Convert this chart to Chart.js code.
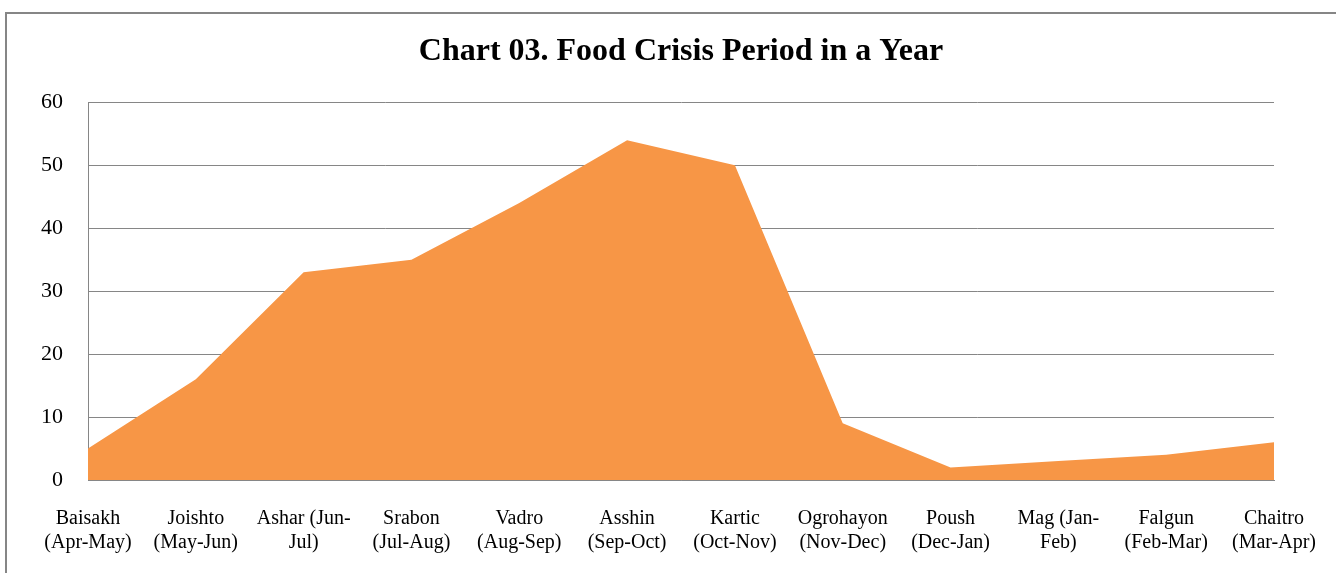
<!DOCTYPE html>
<html>
<head>
<meta charset="utf-8">
<script src="https://cdn.jsdelivr.net/npm/chart.js@4.4.1/dist/chart.umd.min.js"></script>
<style>
html,body{margin:0;padding:0;background:#fff;}
#wrap{position:relative;width:1336px;height:573px;}
</style>
</head>
<body>
<div id="wrap"><canvas id="c" width="1336" height="573"></canvas></div>
<script>
const categories = [
  ["Baisakh","(Apr-May)"],
  ["Joishto","(May-Jun)"],
  ["Ashar (Jun-","Jul)"],
  ["Srabon","(Jul-Aug)"],
  ["Vadro","(Aug-Sep)"],
  ["Asshin","(Sep-Oct)"],
  ["Kartic","(Oct-Nov)"],
  ["Ogrohayon","(Nov-Dec)"],
  ["Poush","(Dec-Jan)"],
  ["Mag (Jan-","Feb)"],
  ["Falgun","(Feb-Mar)"],
  ["Chaitro","(Mar-Apr)"]
];
const values = [5, 16, 33, 35, 44, 54, 50, 9, 2, 3, 4, 6];
const yTicks = [0, 10, 20, 30, 40, 50, 60];
const titleText = "Chart 03. Food Crisis Period in a Year";

const borderPlugin = {
  id: 'frame',
  afterDraw(chart) {
    const ctx = chart.ctx;
    ctx.save();
    ctx.strokeStyle = '#868686';
    ctx.lineWidth = 2;
    ctx.beginPath();
    ctx.moveTo(6, 600);
    ctx.lineTo(6, 13);
    ctx.lineTo(1340, 13);
    ctx.stroke();
    ctx.restore();
  }
};

new Chart(document.getElementById('c'), {
  type: 'line',
  data: {
    labels: categories,
    datasets: [{
      data: values,
      fill: 'origin',
      backgroundColor: '#F79646',
      borderColor: '#F79646',
      borderWidth: 0,
      pointRadius: 0,
      tension: 0
    }]
  },
  plugins: [borderPlugin],
  options: {
    responsive: false,
    animation: false,
    layout: { padding: { left: 0, right: 62, top: 0, bottom: 0 } },
    plugins: {
      legend: { display: false },
      tooltip: { enabled: false },
      title: {
        display: true,
        fullSize: false,
        text: titleText,
        color: '#000',
        font: { family: 'Liberation Serif', size: 32, weight: 'bold' },
        padding: { top: 33, bottom: 31 }
      }
    },
    scales: {
      x: {
        offset: false,
        grid: { display: false, drawTicks: false },
        border: { display: true, color: '#868686', width: 1 },
        ticks: {
          autoSkip: false, maxRotation: 0, minRotation: 0,
          color: '#000', padding: 27,
          font: { family: 'Liberation Serif', size: 20, lineHeight: 1.2 }
        },
        afterFit(s) { s.height = 93; s.paddingLeft = 0; s.paddingRight = 0; }
      },
      y: {
        min: 0, max: 60,
        afterBuildTicks(s) { s.ticks = yTicks.map(v => ({ value: v })); },
        grid: { color: '#868686', lineWidth: 1, drawTicks: false },
        border: { display: true, color: '#868686', width: 1 },
        ticks: {
          color: '#000', padding: 25,
          font: { family: 'Liberation Serif', size: 22 }
        },
        afterFit(s) { s.width = 88; }
      }
    }
  }
});
</script>
</body>
</html>
